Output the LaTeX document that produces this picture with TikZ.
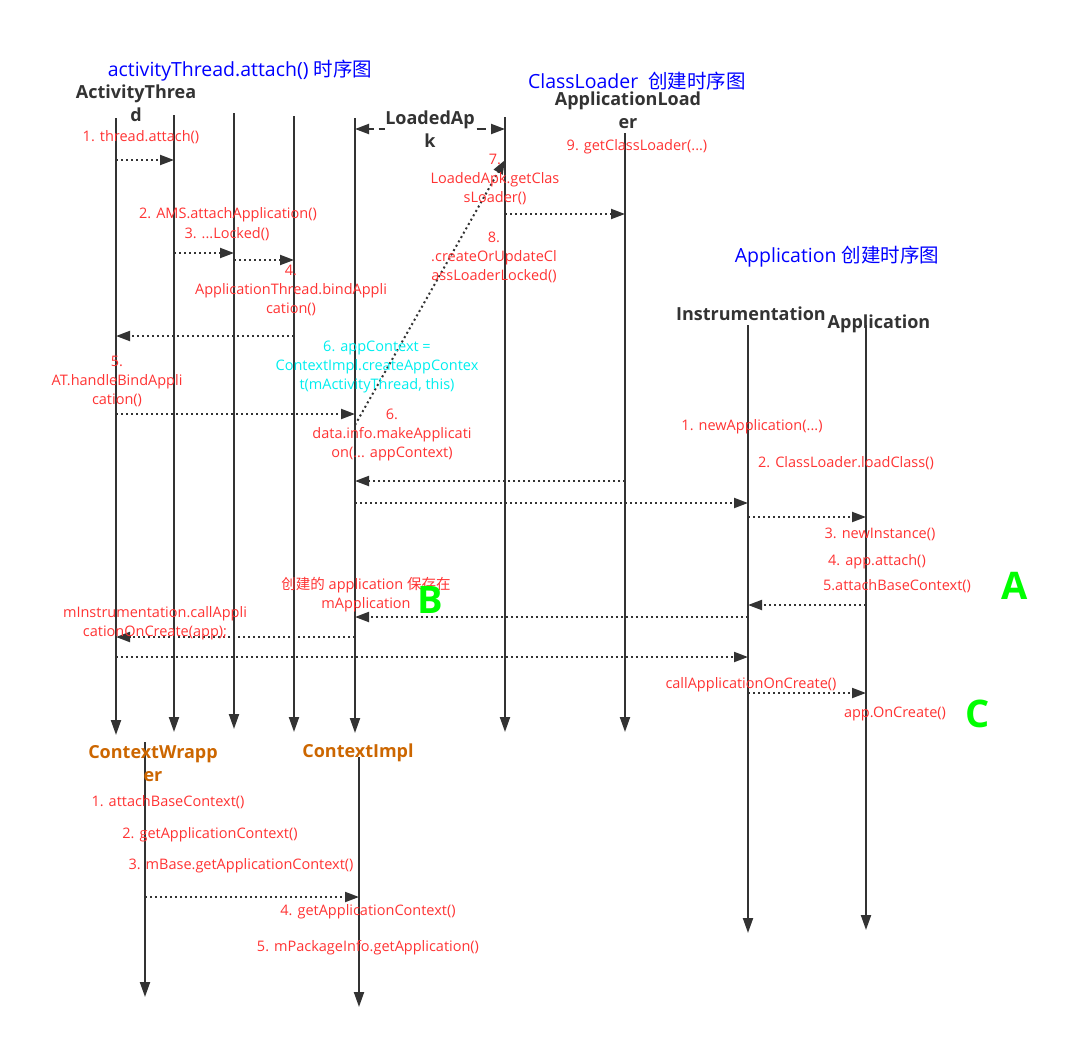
\documentclass[tikz,border=0pt]{standalone}
\usepackage{fontspec}
\setmainfont{Open Sans}
\newfontfamily\cjk{Noto Sans CJK SC}
\usetikzlibrary{arrows.meta}
\definecolor{linegray}{HTML}{333333}
\definecolor{msgred}{HTML}{FF3333}
\definecolor{ttlblue}{HTML}{0000FF}
\definecolor{notecyan}{HTML}{00EEEE}
\definecolor{tagreen}{HTML}{00FF00}
\definecolor{hdrorange}{HTML}{CC6600}

\begin{document}
\begin{tikzpicture}[x=1pt, y=-1pt,
    life/.style={draw=linegray, line width=2pt, -{Triangle[length=15pt,width=10pt]}},
    msg/.style={draw=linegray, line width=2pt, dash pattern=on 2pt off 3pt, -{Triangle[length=14pt,width=10pt]}},
    lbl/.style={text=msgred, font=\fontsize{14.5}{19}\selectfont, align=center, inner sep=0pt},
    hdr/.style={text=linegray, font=\fontsize{18}{23}\selectfont\bfseries, align=center, inner sep=0pt},
    ttl/.style={text=ttlblue, font=\fontsize{19.5}{22}\selectfont, inner sep=0pt},
    tag/.style={text=tagreen, font=\fontsize{38}{40}\selectfont\bfseries, inner sep=0pt}]
  \useasboundingbox (0,0) rectangle (1085,1037);

  % lifelines
  \foreach \n/\x/\t/\b in {at/116/118/735, l2/174/115/732, l3/234/113/729,
      l4/294/116/732, la/355/118/733, lb/505/117/732, lc/625/133/732,
      ins/748/325/933, app/866/325/930, cw/145/742/997, ci/359/757/1007} {
    \coordinate (\n-t) at (\x,\t);
    \coordinate (\n-b) at (\x,\b);
    \draw[life] (\n-t) -- (\n-b);
  }

  % titles
  \node[ttl] (t1) at (240,71) {activityThread.attach() {\cjk 时序图}};
  \node[ttl] (t2) at (637,81) {ClassLoader\ \ {\cjk 创建时序图}};
  \node[ttl] (t3) at (837,257) {Application {\cjk 创建时序图}};

  % lifeline headers
  \node[hdr] (h1) at (136,103) {ActivityThrea\\d};
  \node[hdr] (h3) at (628,110) {ApplicationLoad\\er};
  \node[hdr] (h4) at (751,314) {Instrumentation};
  \node[hdr] (h5) at (879,324) {Application};
  \node[hdr, text=hdrorange] (h6) at (153,764) {ContextWrapp\\er};
  \node[hdr, text=hdrorange] (h7) at (358,753) {ContextImpl};
  \draw[draw=linegray, line width=2pt, dash pattern=on 9pt off 5pt, dash phase=4pt,
      {Triangle[length=14pt,width=10pt]}-{Triangle[length=14pt,width=10pt]}]
    (la-t |- 0,129) -- (lb-t |- 0,129)
    node[midway, hdr, fill=white] (h2) {LoadedAp\\k};

  % messages
  \foreach \a/\b/\y in {at/l2/160, l2/l3/253, l3/l4/260, l4/at/336, at/la/414,
      lb/lc/214, lc/la/481, la/ins/503, ins/app/517, app/ins/605, ins/la/617,
      la/at/637, at/ins/657, ins/app/693, cw/ci/897} {
    \draw[msg] (\a-t |- 0,\y) -- (\b-t |- 0,\y);
  }
  \draw[msg] (la-t |- 0,425) -- (lb-t |- 0,160);

  % message labels
  \node[lbl] (n1) at (141,137) {1. thread.attach()};
  \node[lbl] (n2) at (228,215) {2. AMS.attachApplication()};
  \node[lbl] (n3) at (227,234) {3. ...Locked()};
  \node[lbl] (n4) at (291,290) {4.\\ApplicationThread.bindAppli\\cation()};
  \node[lbl] (n5) at (117,381) {5.\\AT.handleBindAppli\\cation()};
  \node[lbl, text=notecyan] (c6) at (377,367) {6. appContext =\\ContextImpl.createAppContex\\t(mActivityThread, this)};
  \node[lbl] (n6) at (392,435) {6.\\data.info.makeApplicati\\on(... appContext)};
  \node[lbl] (n7) at (495,179) {7.\\LoadedApk.getClas\\sLoader()};
  \node[lbl] (n8) at (494,257) {8.\\.createOrUpdateCl\\assLoaderLocked()};
  \node[lbl] (n9) at (637,147) {9. getClassLoader(...)};
  \node[lbl] (r1) at (752,427) {1. newApplication(...)};
  \node[lbl] (r2) at (846,463) {2. ClassLoader.loadClass()};
  \node[lbl] (r3) at (880,534) {3. newInstance()};
  \node[lbl] (r4) at (877,562) {4. app.attach()};
  \node[lbl] (r5) at (897,586) {5.attachBaseContext()};
  \node[lbl] (nb) at (366,595) {{\cjk 创建的} application {\cjk 保存在}\\mApplication};
  \node[lbl] (nc) at (155,623) {mInstrumentation.callAppli\\cationOnCreate(app);};
  \node[lbl] (r6) at (751,685) {callApplicationOnCreate()};
  \node[lbl] (r7) at (895,714) {app.OnCreate()};
  \node[lbl] (w1) at (168,802) {1. attachBaseContext()};
  \node[lbl] (w2) at (210,835) {2. getApplicationContext()};
  \node[lbl] (w3) at (241,866) {3. mBase.getApplicationContext()};
  \node[lbl] (w4) at (368,912) {4. getApplicationContext()};
  \node[lbl] (w5) at (368,948) {5. mPackageInfo.getApplication()};

  % marks
  \node[tag] (ka) at (1015,586) {A};
  \node[tag] (kb) at (430,600) {B};
  \node[tag] (kc) at (978,714) {C};
\end{tikzpicture}
\end{document}
